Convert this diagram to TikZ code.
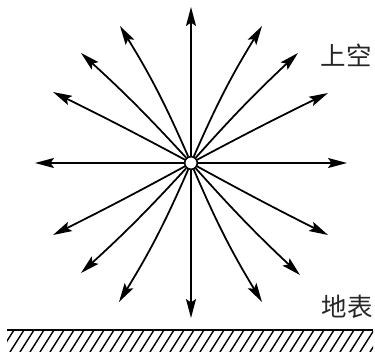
\documentclass[tikz,border=0pt]{standalone}
\usepackage{fontspec}
\newfontfamily\cjk{Noto Sans CJK SC}
\usetikzlibrary{arrows.meta}
\begin{document}
\begin{tikzpicture}[x=0.02cm,y=-0.02cm,
  ray/.style={line width=1pt,-{Stealth[length=3.8mm,width=2mm,inset=0.7mm]}},
  dot/.style={circle,draw,fill=white,minimum size=0.25cm,inner sep=0pt,line width=0.8pt},
  lbl/.style={font=\cjk\fontsize{14.5pt}{16pt}\selectfont,inner sep=0pt,text=black!85},
  hatchline/.style={line width=0.8pt},
  ground/.style={line width=1.5pt}]
\useasboundingbox (0,0) rectangle (375,355);
\node[dot] (c) at (191,163) {};
% tips
\coordinate (tN) at (191,7);
\coordinate (tS) at (191,318);
\coordinate (tW) at (35,163);
\coordinate (tE) at (347,163);
\coordinate (tNW1) at (120,26);
\coordinate (tNW2) at (81,53);
\coordinate (tNW3) at (53,92);
\coordinate (tNE1) at (262,26);
\coordinate (tNE2) at (298,53);
\coordinate (tNE3) at (328,93);
\coordinate (tSW3) at (53,235);
\coordinate (tSW2) at (81,273);
\coordinate (tSW1) at (119,302);
\coordinate (tSE3) at (328,235);
\coordinate (tSE2) at (300,275);
\coordinate (tSE1) at (262,302);
\draw[ray] (c) -- (tN);
\draw[ray] (c) -- (tS);
\draw[ray] (c) -- (tW);
\draw[ray] (c) -- (tE);
\draw[ray] (c) to[bend right=4] (tNW1);
\draw[ray] (c) to[bend right=2.5] (tNW2);
\draw[ray] (c) to[bend right=1] (tNW3);
\draw[ray] (c) to[bend left=4] (tNE1);
\draw[ray] (c) to[bend left=2.5] (tNE2);
\draw[ray] (c) to[bend left=1] (tNE3);
\draw[ray] (c) to[bend left=4] (tSW1);
\draw[ray] (c) to[bend left=2.5] (tSW2);
\draw[ray] (c) to[bend left=1] (tSW3);
\draw[ray] (c) to[bend right=4] (tSE1);
\draw[ray] (c) to[bend right=2.5] (tSE2);
\draw[ray] (c) to[bend right=1] (tSE3);
\node[dot] at (c) {};
% labels
\node[lbl] (sky) at (346,55) {上空};
\node[lbl] (surf) at (347,307) {地表};
% ground
\coordinate (gL) at (7,330);
\coordinate (gR) at (373,330);
\begin{scope}
\clip (7,331) rectangle (373,351);
\foreach \i in {-20,-10,...,380} {
  \draw[hatchline] (\i,352) -- ++(14,-22);
}
\end{scope}
\draw[ground] (gL) -- (gR);
\end{tikzpicture}
\end{document}
